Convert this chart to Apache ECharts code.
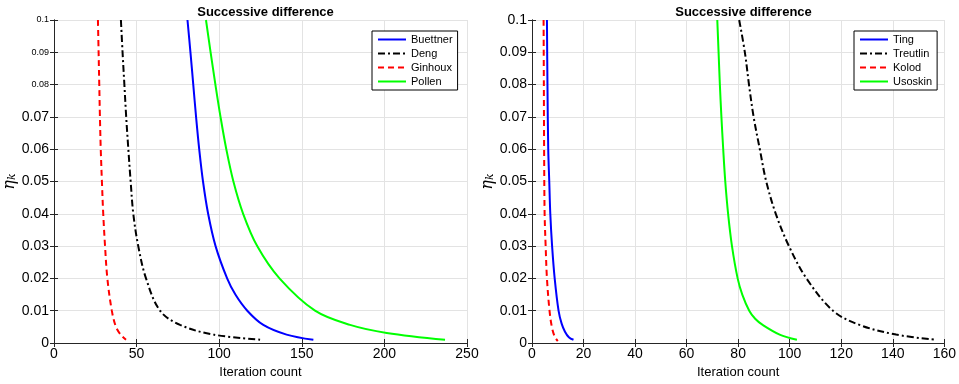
<!DOCTYPE html>
<html>
<head>
<meta charset="utf-8">
<script src="https://cdn.jsdelivr.net/npm/echarts@6/dist/echarts.min.js"></script>
<style>html,body{margin:0;padding:0;background:#fff}#c{width:959px;height:384px}</style>
</head>
<body>
<div id="c"></div>
<script>
// ---- data (x = iteration count, y = eta_k) ----
const buettner = [[80.8,0.1],[82.6,0.09],[84.3,0.08],[86,0.07],[87.9,0.06],[90.2,0.05],[93.3,0.04],[97.8,0.03],[104.8,0.02],[109.8,0.015],[117,0.01],[126.7,0.0056],[140.8,0.0026],[157,0.001]];
const deng = [[40.5,0.1],[41.5,0.09],[42.6,0.08],[43.7,0.07],[45,0.06],[46.4,0.05],[48,0.04],[51,0.03],[55.7,0.02],[64.2,0.01],[76.3,0.0056],[96.5,0.0026],[125.7,0.001]];
const ginhoux = [[26.6,0.1],[27,0.09],[27.4,0.08],[27.8,0.07],[28.3,0.06],[29,0.05],[29.8,0.04],[30.9,0.03],[32.3,0.02],[35,0.01],[37.5,0.005],[40.5,0.0025],[43.6,0.001]];
const pollen = [[92,0.1],[94.8,0.09],[97.7,0.08],[100.8,0.07],[104.3,0.06],[108.6,0.05],[114.5,0.04],[123,0.03],[136.5,0.02],[158,0.01],[179.2,0.0056],[201.4,0.0031],[236.7,0.001]];

const ting = [[5.8,0.1],[6.0,0.08],[6.3,0.06],[6.7,0.05],[7.1,0.04],[7.8,0.03],[8.8,0.02],[10.3,0.01],[11.5,0.006],[12.8,0.0035],[14.3,0.0018],[16.1,0.001]];
const treutlin = [[80.4,0.1],[82.6,0.09],[84.2,0.08],[86,0.07],[88.4,0.06],[90.9,0.05],[94.6,0.04],[99.7,0.03],[106.5,0.02],[116.8,0.01],[127.1,0.0056],[141.3,0.0026],[156.8,0.001]];
const kolod = [[4.5,0.1],[4.6,0.08],[4.7,0.06],[4.9,0.04],[5.3,0.03],[5.8,0.02],[6.8,0.01],[7.7,0.005],[8.8,0.002],[10,0.0006]];
const usoskin = [[71.9,0.1],[72.4,0.09],[72.9,0.08],[73.5,0.07],[74.2,0.06],[75,0.05],[76.1,0.04],[77.6,0.03],[79.8,0.02],[81.6,0.015],[84.3,0.01],[86.6,0.0075],[89.5,0.0056],[96.1,0.0026],[102.8,0.001]];

const leftNames = ['Buettner','Deng','Ginhoux','Pollen'];
const rightNames = ['Ting','Treutlin','Kolod','Usoskin'];
const titleText = 'Successive difference';
const xName = 'Iteration count';
const leftSmallTicks = ['0.1','0.09','0.08'];

// ---- chart ----
const FONT = '"Liberation Sans", Arial, sans-serif';
const fmt = v => String(parseFloat(Number(v).toFixed(3)));
const axisCol = '#262626';
const gridCol = '#e3e3e3';

function yLabel(small) {
  return {
    color: '#000', margin: 5, fontFamily: FONT,
    formatter: v => {
      const s = fmt(v);
      return (small && leftSmallTicks.indexOf(s) >= 0) ? '{s|' + s + '}' : '{b|' + s + '}';
    },
    rich: { s: { fontSize: 9, fontFamily: FONT, color: '#000' }, b: { fontSize: 14, fontFamily: FONT, color: '#000' } }
  };
}
const yName = '{e|η}{k|k}';
const yNameStyle = { rich: { e: { fontFamily: '"DejaVu Serif", serif', fontStyle: 'italic', fontSize: 16, color: '#000' }, k: { fontFamily: '"DejaVu Serif", serif', fontStyle: 'italic', fontSize: 11, color: '#000', verticalAlign: 'bottom', padding: [6, 0, 0, 0] } } };

function xMain(gi, max, interval) {
  return {
    type: 'value', gridIndex: gi, min: 0, max: max, interval: interval, position: 'bottom',
    name: xName, nameLocation: 'middle', nameGap: 23,
    nameTextStyle: { fontSize: 13, fontFamily: FONT, color: '#000' },
    axisLine: { show: true, lineStyle: { color: axisCol, width: 1 } },
    axisTick: { show: true, inside: true, length: 4, lineStyle: { color: axisCol } },
    axisLabel: { fontSize: 14, fontFamily: FONT, color: '#000', margin: 4 },
    splitLine: { show: true, lineStyle: { color: gridCol, width: 1 } }
  };
}
function xTop(gi, max, interval) {
  return {
    type: 'value', gridIndex: gi, min: 0, max: max, interval: interval, position: 'top',
    axisLine: { show: true, lineStyle: { color: axisCol, width: 1 } },
    axisTick: { show: true, inside: true, length: 4, lineStyle: { color: axisCol } },
    axisLabel: { show: false }, splitLine: { show: false }
  };
}
function yMain(gi, small) {
  return {
    type: 'value', gridIndex: gi, min: 0, max: 0.1, interval: 0.01, position: 'left',
    name: yName, nameLocation: 'middle', nameGap: 35, nameRotate: 90, nameTextStyle: yNameStyle,
    axisLine: { show: true, lineStyle: { color: axisCol, width: 1 } },
    axisTick: { show: true, inside: true, length: 4, lineStyle: { color: axisCol } },
    axisLabel: yLabel(small),
    splitLine: { show: true, lineStyle: { color: gridCol, width: 1 } }
  };
}
function yRight(gi) {
  return {
    type: 'value', gridIndex: gi, min: 0, max: 0.1, interval: 0.01, position: 'right',
    axisLine: { show: true, lineStyle: { color: axisCol, width: 1 } },
    axisTick: { show: true, inside: true, length: 4, lineStyle: { color: axisCol } },
    axisLabel: { show: false }, splitLine: { show: false }
  };
}
function line(name, data, color, type, xi, yi) {
  return {
    type: 'line', name: name, data: data, xAxisIndex: xi, yAxisIndex: yi,
    showSymbol: false, symbol: 'none', smooth: 0.35,
    lineStyle: { color: color, width: 2, type: type }, itemStyle: { color: color },
    clip: true, animation: false
  };
}
function legend(names, left) {
  return {
    data: names, orient: 'vertical', left: left, top: 31,
    backgroundColor: '#fff', borderColor: '#000', borderWidth: 1, borderRadius: 0,
    padding: [3, 5, 3, 5], itemWidth: 28, itemHeight: 8, itemGap: 3,
    itemStyle: { opacity: 0 },
    textStyle: { fontSize: 11, fontFamily: FONT, color: '#000', padding: [0, 0, 0, 0] }
  };
}
const DASH = [6, 4];
const DASHDOT = [7, 3, 2, 3];

const chart = echarts.init(document.getElementById('c'), null, { renderer: 'canvas' });
chart.setOption({
  animation: false,
  backgroundColor: '#fff',
  title: [
    { text: titleText, left: 260.5, top: 1, textAlign: 'center', textStyle: { fontSize: 13, fontWeight: 'bold', fontFamily: FONT, color: '#000' } },
    { text: titleText, left: 738.5, top: 1, textAlign: 'center', textStyle: { fontSize: 13, fontWeight: 'bold', fontFamily: FONT, color: '#000' } }
  ],
  legend: [legend(leftNames, 372), legend(rightNames, 854)],
  grid: [
    { left: 54, right: 492, top: 20, bottom: 39, containLabel: false },
    { left: 532, right: 14, top: 20, bottom: 39, containLabel: false }
  ],
  xAxis: [xMain(0, 250, 50), xTop(0, 250, 50), xMain(1, 160, 20), xTop(1, 160, 20)],
  yAxis: [yMain(0, true), yRight(0), yMain(1, false), yRight(1)],
  series: [
    line('Buettner', buettner, '#0000ff', 'solid', 0, 0),
    line('Deng', deng, '#000000', DASHDOT, 0, 0),
    line('Ginhoux', ginhoux, '#ff0000', DASH, 0, 0),
    line('Pollen', pollen, '#00ff00', 'solid', 0, 0),
    line('Ting', ting, '#0000ff', 'solid', 2, 2),
    line('Treutlin', treutlin, '#000000', DASHDOT, 2, 2),
    line('Kolod', kolod, '#ff0000', DASH, 2, 2),
    line('Usoskin', usoskin, '#00ff00', 'solid', 2, 2)
  ]
});
</script>
</body>
</html>
